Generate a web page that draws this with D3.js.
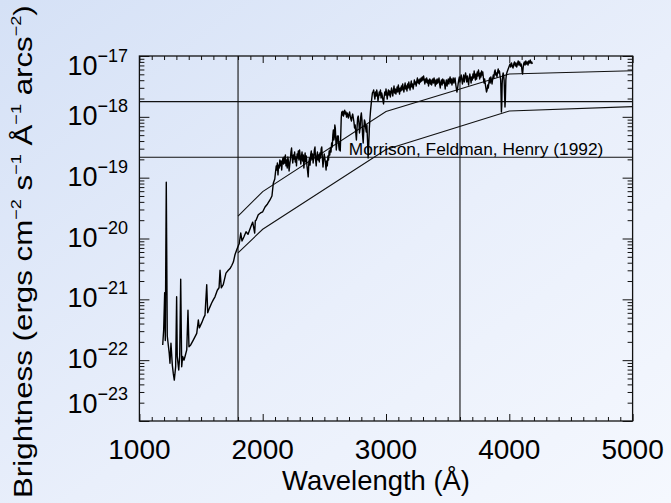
<!DOCTYPE html>
<html>
<head>
<meta charset="utf-8">
<script src="https://cdn.jsdelivr.net/npm/d3@7"></script>
<style>
  html, body { margin: 0; padding: 0; overflow: hidden; }
  svg { display: block; }
  text { font-family: "Liberation Sans", Arial, Helvetica, sans-serif; fill: #000; }
</style>
</head>
<body>
<svg id="chart" width="671" height="503"></svg>
<script>
// Observed sky spectrum: wavelength (Å) and brightness (ergs cm^-2 s^-1 Å^-1 arcs^-2)
const specWave = [
  // far UV, emission lines on a faint continuum
  1189,1197,1205,1210,1218,1226,1242,1248,1256,1267,1275,1283,1294,1302,1307,1319,1327,1335,1343,1351,
  1362,1370,1384,1394,1402,1416,1437,1465,1478,1486,1505,1520,1532,1546,1554,1567,1586,1599,1613,1632,
  1646,1654,1664,1680,1702,1721,1735,1749,1762,1775,1794,1810,1822,1832,1848,1865,1881,1903,1919,1935,
  1940,1946,1964,1982,2000,2019,2039,2059,2075,2086,2098,
  // near UV
  2104,2110,2114,2119,2124,2129,2134,2139,2144,2149,2154,2159,2164,2169,2174,2179,2184,2189,2194,2199,
  2204,2209,2214,2219,2224,2229,2234,2239,2244,2249,2254,2259,2264,2269,2274,2279,2284,2289,2294,2299,
  2304,2309,2314,2319,2324,2329,2334,2339,2344,2349,2354,2359,2364,2369,2374,2379,2384,2389,2394,2399,
  2404,2409,2414,2419,2424,2429,2434,2439,2444,2449,2454,2459,2464,2469,2474,2479,2484,2489,2494,2499,
  2504,2509,2514,2519,2524,2529,2534,2539,2544,2549,2554,2559,2564,2569,2573,2577,2581,2585,2589,2593,
  2597,2601,2605,2609,2613,2617,2621,2625,2629,2633,2637,2641,
  2645,2650,2655,2660,2665,2670,2675,2680,2685,2690,2695,2700,2705,2710,2715,2720,2725,2730,2735,2740,
  2745,2750,2755,2760,2765,2770,2775,2780,2785,2790,2795,2800,2805,2810,2815,2820,2825,2830,2835,2840,
  2845,2850,2855,2860,2865,2870,2875,2880,2885,2890,
  // near UV / blue
  2895,2900,2905,2910,2915,2920,2925,2930,2935,2940,2945,2950,2955,2960,2965,2970,2975,2980,2985,2990,
  2995,3000,3005,3010,3015,3020,3025,3030,3035,3040,3045,3050,3055,3060,3065,3070,3075,3080,3085,3090,
  3095,3100,3105,3110,3115,3120,3125,3130,3135,3140,3145,3150,3155,3160,3165,3170,3175,3180,3185,3190,
  3195,3200,3205,3210,3215,3220,3225,3230,3235,3240,3245,3250,3255,3260,3265,3270,3275,3280,3285,3290,
  3295,3300,3305,3310,3315,3320,3325,3330,3335,3340,3345,3350,3355,3360,3365,3370,3375,3380,3385,3390,
  3395,3400,3405,3410,3415,3420,3425,3430,3435,3440,3445,3450,3455,3460,3465,3470,3475,3480,3485,3490,
  3495,3500,3505,3510,3515,3520,3525,3530,3535,3540,3545,3550,3555,3560,3565,3570,3575,3580,3585,3590,
  3595,3600,3605,3610,3615,3620,3625,3630,3635,3640,3645,3650,3655,3660,3665,3670,3675,3680,3685,3690,
  3695,3700,3705,3710,3715,3720,3725,3730,3735,3740,3745,3750,3755,3760,3765,3770,3775,3780,3785,3790,
  3795,3800,3805,3810,3815,3820,3825,3830,3835,3840,3845,3850,3855,3860,3865,3870,3875,3880,3885,3890,
  3895,3900,3905,3910,3915,3920,3925,3930,3933,3936,3939,3942,3946,3950,3954,3958,3962,3965,3968,3972,
  3976,3982,3988,3994,4000,4006,4012,4018,4024,4030,4036,4042,4048,4054,4060,4066,4072,4078,4084,4090,
  4096,4100,4104,4108,4112,4116,4122,4128,4134,4140,4146,4152,4158,4164,4170,4176,4182,4186];
const specFlux = [
  1.78e-22,3.2e-22,1.29e-21,2.1e-22,8.4e-20,2.5e-22,1.29e-22,8.9e-23,1.9e-22,8.3e-23,6.0e-23,4.7e-23,7.8e-23,1.1e-21,1.15e-22,6.9e-23,1.2e-22,2.14e-21,7.8e-23,1.15e-22,
  1.0e-22,1.15e-22,1.48e-22,6.6e-22,1.66e-22,1.78e-22,2.14e-22,2.75e-22,4.57e-22,3.4e-22,4.1e-22,4.9e-22,5.5e-22,1.74e-21,6.0e-22,7.1e-22,8.7e-22,9.8e-22,1.1e-21,1.41e-21,
  1.55e-21,3.0e-21,1.55e-21,1.74e-21,2.7e-21,3.0e-21,3.2e-21,3.6e-21,4.1e-21,5.4e-21,6.9e-21,8.3e-21,1.23e-20,9.1e-21,1.07e-20,1.29e-20,1.17e-20,1.55e-20,1.86e-20,1.23e-20,
  1.95e-20,2.0e-20,2.45e-20,2.63e-20,2.75e-20,3.3e-20,3.7e-20,4.3e-20,5.0e-20,8.1e-20,9.5e-20,
  1.24e-19,1.56e-19,1.34e-19,1.74e-19,1.11e-19,1.61e-19,1.44e-19,1.95e-19,1.56e-19,1.88e-19,1.34e-19,1.81e-19,2.10e-19,1.68e-19,2.19e-19,1.74e-19,2.36e-19,1.56e-19,1.95e-19,1.44e-19,
  2.19e-19,1.88e-19,1.29e-19,1.61e-19,1.95e-19,2.64e-19,3.07e-19,2.10e-19,1.74e-19,2.36e-19,2.03e-19,2.64e-19,1.81e-19,2.19e-19,1.56e-19,2.45e-19,2.10e-19,2.74e-19,1.95e-19,2.85e-19,
  2.27e-19,1.68e-19,2.19e-19,2.64e-19,1.88e-19,2.36e-19,1.44e-19,2.10e-19,2.54e-19,1.81e-19,2.27e-19,1.56e-19,1.29e-19,1.03e-19,1.74e-19,2.10e-19,1.61e-19,2.36e-19,2.74e-19,2.03e-19,
  2.45e-19,1.74e-19,2.19e-19,2.85e-19,3.19e-19,1.95e-19,1.56e-19,2.27e-19,2.64e-19,1.95e-19,2.36e-19,1.81e-19,2.54e-19,2.10e-19,2.96e-19,3.19e-19,2.10e-19,1.50e-19,1.95e-19,2.45e-19,
  2.10e-19,1.74e-19,1.34e-19,1.88e-19,1.56e-19,2.27e-19,1.95e-19,2.74e-19,2.36e-19,3.07e-19,2.64e-19,3.71e-19,3.19e-19,5.02e-19,6.07e-19,4.16e-19,4.66e-19,7.34e-19,6.55e-19,4.16e-19,
  2.85e-19,3.71e-19,4.84e-19,4.00e-19,4.84e-19,3.31e-19,2.85e-19,3.71e-19,2.74e-19,5.02e-19,9.57e-19,1.20e-18,
  1.07e-18,1.24e-18,1.03e-18,1.16e-18,1.29e-18,1.11e-18,1.20e-18,9.9e-19,1.16e-18,1.07e-18,9.57e-19,1.11e-18,1.20e-18,1.03e-18,9.21e-19,8.54e-19,1.03e-18,1.11e-18,9.57e-19,8.22e-19,
  6.55e-19,7.34e-19,5.42e-19,4.16e-19,6.55e-19,9.57e-19,1.03e-18,8.22e-19,5.42e-19,6.55e-19,9.9e-19,1.16e-18,8.87e-19,5.02e-19,3.71e-19,6.07e-19,8.87e-19,8.22e-19,6.55e-19,5.63e-19,
  7.34e-19,4.16e-19,2.10e-19,3.44e-19,6.55e-19,9.57e-19,1.29e-18,1.63e-18,2.04e-18,2.47e-18,
  2.56e-18,2.76e-18,2.28e-18,1.96e-18,2.56e-18,2.20e-18,2.76e-18,2.37e-18,1.82e-18,2.12e-18,2.56e-18,2.28e-18,2.76e-18,2.04e-18,2.47e-18,2.20e-18,1.89e-18,1.63e-18,2.12e-18,2.56e-18,
  2.28e-18,2.87e-18,2.37e-18,1.96e-18,2.47e-18,2.76e-18,2.28e-18,2.66e-18,2.12e-18,2.47e-18,2.98e-18,2.56e-18,2.20e-18,2.76e-18,3.21e-18,2.47e-18,2.87e-18,2.37e-18,2.66e-18,3.09e-18,
  2.56e-18,3.34e-18,2.76e-18,2.37e-18,2.98e-18,2.66e-18,3.21e-18,2.76e-18,3.47e-18,2.98e-18,2.56e-18,3.09e-18,3.60e-18,2.87e-18,3.21e-18,2.66e-18,3.47e-18,2.98e-18,3.74e-18,3.21e-18,
  2.76e-18,3.34e-18,3.88e-18,3.09e-18,3.47e-18,2.87e-18,3.34e-18,4.03e-18,3.47e-18,3.74e-18,3.21e-18,3.88e-18,4.35e-18,3.60e-18,4.03e-18,3.47e-18,4.19e-18,3.74e-18,4.35e-18,3.88e-18,
  4.52e-18,4.03e-18,4.69e-18,4.03e-18,3.47e-18,4.19e-18,3.74e-18,4.35e-18,3.60e-18,4.03e-18,3.21e-18,3.88e-18,4.19e-18,3.47e-18,4.03e-18,3.34e-18,3.74e-18,4.19e-18,3.60e-18,4.35e-18,
  3.74e-18,3.21e-18,4.03e-18,3.47e-18,4.19e-18,3.60e-18,3.88e-18,4.35e-18,3.47e-18,2.98e-18,3.74e-18,4.03e-18,3.34e-18,4.19e-18,3.60e-18,4.03e-18,3.47e-18,2.87e-18,3.60e-18,4.03e-18,
  3.21e-18,3.74e-18,4.19e-18,3.47e-18,4.03e-18,4.52e-18,3.60e-18,4.19e-18,3.34e-18,3.88e-18,4.35e-18,3.60e-18,4.03e-18,4.35e-18,3.47e-18,2.98e-18,2.56e-18,2.87e-18,3.47e-18,4.03e-18,
  4.52e-18,3.74e-18,4.35e-18,4.87e-18,4.03e-18,3.47e-18,4.19e-18,4.87e-18,3.74e-18,4.35e-18,5.26e-18,4.52e-18,3.74e-18,4.69e-18,4.03e-18,3.34e-18,4.35e-18,5.06e-18,4.35e-18,3.60e-18,
  4.52e-18,4.03e-18,5.06e-18,4.35e-18,5.67e-18,4.69e-18,4.03e-18,5.06e-18,4.19e-18,5.46e-18,4.69e-18,5.89e-18,4.87e-18,4.19e-18,5.26e-18,4.52e-18,5.67e-18,4.87e-18,5.46e-18,4.35e-18,
  3.60e-18,4.19e-18,3.47e-18,2.98e-18,2.56e-18,2.76e-18,3.34e-18,2.98e-18,3.74e-18,4.35e-18,3.60e-18,4.52e-18,4.03e-18,3.47e-18,4.19e-18,4.87e-18,4.35e-18,5.46e-18,5.89e-18,4.87e-18,
  5.26e-18,4.52e-18,5.46e-18,6.11e-18,5.26e-18,5.67e-18,4.69e-18,4.03e-18,2.28e-18,1.20e-18,1.57e-18,3.47e-18,4.69e-18,5.26e-18,4.87e-18,4.03e-18,2.20e-18,1.45e-18,1.89e-18,4.03e-18,
  4.87e-18,5.46e-18,5.89e-18,6.35e-18,6.85e-18,7.38e-18,6.60e-18,7.67e-18,6.85e-18,6.35e-18,7.38e-18,7.97e-18,6.85e-18,7.67e-18,6.60e-18,7.38e-18,8.28e-18,7.11e-18,7.97e-18,6.85e-18,
  7.38e-18,6.60e-18,5.46e-18,5.06e-18,6.35e-18,7.38e-18,7.97e-18,7.11e-18,8.28e-18,7.38e-18,7.97e-18,7.11e-18,8.28e-18,7.67e-18,8.58e-18,7.67e-18,7.97e-18,7.38e-18];

// Morrison, Feldman & Henry (1992) envelope
const modelWave  = [1800, 2000, 3000, 4000, 5000];
const modelUpper = [2.34e-20, 5.9e-20, 1.22e-18, 5.06e-18, 5.73e-18];
const modelLower = [5.8e-21, 1.42e-20, 2.9e-19, 1.25e-18, 1.47e-18];

// Reference levels and wavelengths marked across the plot
const refLevels = [1.78e-18, 2.16e-19];
const refWaves  = [1800, 3600];

const xTickValues = [1000, 2000, 3000, 4000, 5000];
const yExponents  = [-17, -18, -19, -20, -21, -22, -23];
const noteText    = "Morrison, Feldman, Henry (1992)";
const noteWave    = 2698;

const W = 671, H = 503;
const plotL = 139.4, plotR = 632.6, plotT = 56, plotB = 421;

const svg = d3.select("#chart");
const defs = svg.append("defs");
const grad = defs.append("linearGradient").attr("id", "bg")
  .attr("x1", "0").attr("y1", "0").attr("x2", "1").attr("y2", "1");
grad.append("stop").attr("offset", "0").attr("stop-color", "#d5e1f6");
grad.append("stop").attr("offset", "0.55").attr("stop-color", "#e9effb");
grad.append("stop").attr("offset", "1").attr("stop-color", "#f5f8fe");
svg.append("rect").attr("width", W).attr("height", H).attr("fill", "url(#bg)");

const x = d3.scaleLinear().domain([1000, 5000]).range([plotL, plotR]);
const y = d3.scaleLog().domain([1e-23, 1e-17]).range([plotB, plotT]);

const ink = "#111";

// minor / major tick values
const xMinor = d3.range(1100, 5000, 100).filter(v => v % 1000 !== 0);
const yMajor = yExponents.map(e => Math.pow(10, e));
const yMinor = [];
for (let e = -23; e < -17; e++) for (let m = 2; m <= 9; m++) yMinor.push(m * Math.pow(10, e));

function tickAxis(axisFn, scale, values, size, translate) {
  const g = svg.append("g").attr("transform", translate)
    .call(axisFn(scale).tickValues(values).tickSize(size).tickSizeOuter(0).tickFormat(""));
  g.select(".domain").remove();
  g.selectAll(".tick line").attr("stroke", ink).attr("stroke-width", 1);
  return g;
}
// bottom & top (inward)
tickAxis(d3.axisBottom, x, xMinor, -4, `translate(0,${plotB})`);
tickAxis(d3.axisBottom, x, xTickValues, -7, `translate(0,${plotB})`);
tickAxis(d3.axisTop, x, xMinor, -4, `translate(0,${plotT})`);
tickAxis(d3.axisTop, x, xTickValues, -7, `translate(0,${plotT})`);
// left & right (inward)
tickAxis(d3.axisLeft, y, yMinor, -5, `translate(${plotL},0)`);
tickAxis(d3.axisLeft, y, yMajor, -10, `translate(${plotL},0)`);
tickAxis(d3.axisRight, y, yMinor, -5, `translate(${plotR},0)`);
tickAxis(d3.axisRight, y, yMajor, -10, `translate(${plotR},0)`);

// reference lines
svg.append("g").selectAll("line").data(refLevels).join("line")
  .attr("x1", plotL).attr("x2", plotR)
  .attr("y1", d => y(d)).attr("y2", d => y(d))
  .attr("stroke", ink).attr("stroke-width", 1.1);
svg.append("g").selectAll("line").data(refWaves).join("line")
  .attr("x1", d => x(d)).attr("x2", d => x(d))
  .attr("y1", plotT).attr("y2", plotB)
  .attr("stroke", ink).attr("stroke-width", 1.1);

// model envelope
const lineGen = d3.line().x(d => x(d[0])).y(d => y(d[1]));
[modelUpper, modelLower].forEach(arr => {
  svg.append("path").datum(modelWave.map((w, i) => [w, arr[i]]))
    .attr("d", lineGen).attr("fill", "none")
    .attr("stroke", ink).attr("stroke-width", 1.1);
});

// spectrum
svg.append("path").datum(specWave.map((w, i) => [w, specFlux[i]]))
  .attr("d", lineGen).attr("fill", "none")
  .attr("stroke", "#000").attr("stroke-width", 1.4).attr("stroke-linejoin", "round");

// frame
svg.append("rect").attr("x", plotL).attr("y", plotT)
  .attr("width", plotR - plotL).attr("height", plotB - plotT)
  .attr("fill", "none").attr("stroke", ink).attr("stroke-width", 1.3);

// annotation
svg.append("text").attr("x", x(noteWave)).attr("y", 155)
  .attr("font-size", 17.3).text(noteText);

// x tick labels
svg.append("g").selectAll("text").data(xTickValues).join("text")
  .attr("x", d => x(d)).attr("y", 459)
  .attr("text-anchor", "middle").attr("font-size", 28)
  .text(d => d);

// y tick labels: 10 with superscript exponent
const labelShift = e => (e === -17 ? 9 : e === -23 ? -18 : -2);
yExponents.forEach(e => {
  const cy = y(Math.pow(10, e)) + labelShift(e);
  const t = svg.append("text").attr("x", 128).attr("y", cy + 10)
    .attr("text-anchor", "end").attr("font-size", 27);
  t.append("tspan").text("10");
  t.append("tspan").attr("font-size", 18).attr("dy", -13).text("\u2212" + Math.abs(e));
});

// axis titles
function fitted(xp, yp, rot, anchor, size, width, build) {
  const g = svg.append("g").attr("transform", `translate(${xp},${yp}) rotate(${rot})`);
  const t = g.append("text").attr("text-anchor", anchor).attr("font-size", size);
  build(t);
  const w = t.node().getBBox().width;
  t.attr("transform", `scale(${width / w},1)`);
}
fitted(376, 490, 0, "middle", 28, 188, t => t.text("Wavelength (\u00c5)"));
fitted(31.5, 498, -90, "start", 26, 493, t => {
  const sup = (s) => { t.append("tspan").attr("font-size", 15).attr("dy", -11).text(s); };
  const norm = (s) => { t.append("tspan").attr("dy", 11).text(s); };
  t.append("tspan").text("Brightness (ergs cm");
  sup("\u22122"); norm(" s");
  sup("\u22121"); norm(" \u00c5");
  sup("\u22121"); norm(" arcs");
  sup("\u22122"); norm(")");
});
</script>
</body>
</html>
